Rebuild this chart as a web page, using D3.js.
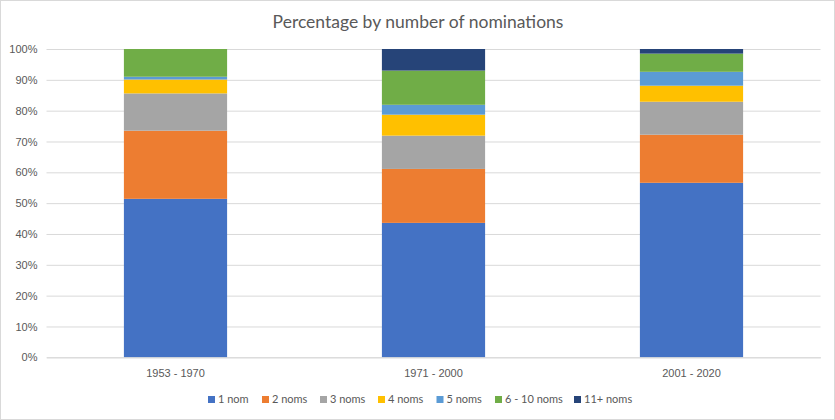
<!DOCTYPE html>
<html>
<head>
<meta charset="utf-8">
<script src="https://cdn.jsdelivr.net/npm/d3@7"></script>
<style>
  html, body { margin: 0; padding: 0; background: #fff; }
  svg { display: block; font-family: Lato, "Open Sans", sans-serif; }
</style>
</head>
<body>
<svg id="chart" width="835" height="420"></svg>
<script>
// 期間（カテゴリ）
const periods = ['1953 - 1970', '1971 - 2000', '2001 - 2020'];
// 系列名
const seriesNames = ['1 nom', '2 noms', '3 noms', '4 noms', '5 noms', '6 - 10 noms', '11+ noms'];
// 各系列の割合（%）: periods 順
const nom1   = [51.4, 43.6, 56.6];
const nom2   = [22.1, 17.5, 15.6];
const nom3   = [12.1, 10.8, 10.7];
const nom4   = [4.5, 6.8, 5.2];
const nom5   = [0.9, 3.2, 4.5];
const nom610 = [9.0, 11.1, 5.9];
const nom11  = [0.0, 7.0, 1.5];
const yTicks = [0, 10, 20, 30, 40, 50, 60, 70, 80, 90, 100];

const colors = ['#4472c4', '#ed7d31', '#a5a5a5', '#ffc000', '#5b9bd5', '#70ad47', '#264478'];
const seriesVals = [nom1, nom2, nom3, nom4, nom5, nom610, nom11];

const W = 835, H = 420;
const margin = { top: 49, right: 14.5, bottom: 63, left: 46.5 };
const svg = d3.select('#chart');

// 外枠
svg.append('rect').attr('x', 0.5).attr('y', 0.5).attr('width', W - 1).attr('height', H - 1)
  .attr('fill', '#fff').attr('stroke', '#d9d9d9');

// タイトル
svg.append('text').attr('x', W / 2 + 0.5).attr('y', 28).attr('text-anchor', 'middle')
  .attr('font-size', 17.5).attr('fill', '#595959').text('Percentage by number of nominations');

const x = d3.scaleBand().domain(periods)
  .range([margin.left, W - margin.right]).paddingInner(0.6).paddingOuter(0.3);
const y = d3.scaleLinear().domain([0, 100]).range([H - margin.bottom + 0.3, margin.top]);

// グリッド + 目盛ラベル
const yAxis = svg.append('g').attr('transform', `translate(${margin.left},0)`)
  .call(d3.axisLeft(y).tickValues(yTicks).tickSize(-(W - margin.left - margin.right))
    .tickFormat(d => d + '%').tickPadding(9));
yAxis.select('.domain').remove();
yAxis.selectAll('.tick line').attr('stroke', '#d9d9d9');
yAxis.selectAll('.tick text').attr('fill', '#595959').attr('font-size', 11);

// 積み上げ
const rows = periods.map((p, i) => {
  const r = { period: p };
  seriesNames.forEach((s, k) => { r[s] = seriesVals[k][i]; });
  return r;
});
const stacked = d3.stack().keys(seriesNames)(rows);

svg.append('g').selectAll('g').data(stacked).enter().append('g')
  .attr('fill', (d, k) => colors[k])
  .selectAll('rect').data(d => d).enter().append('rect')
  .attr('x', d => x(d.data.period))
  .attr('width', x.bandwidth())
  .attr('y', d => y(d[1]))
  .attr('height', d => Math.max(0, y(d[0]) - y(d[1])));

// X軸ラベル
const xAxis = svg.append('g').attr('transform', `translate(0,${y(0)})`)
  .call(d3.axisBottom(x).tickSize(0).tickPadding(12));
xAxis.select('.domain').attr('stroke', '#d9d9d9');
xAxis.selectAll('.tick text').attr('fill', '#595959').attr('font-size', 11);

// 凡例
const legendX = [208, 262, 320, 378, 436.5, 495, 574];
const lg = svg.append('g').selectAll('g').data(seriesNames).enter().append('g')
  .attr('transform', (d, k) => `translate(${legendX[k]},399.5)`);
lg.append('rect').attr('x', 0).attr('y', -3.5).attr('width', 7).attr('height', 7)
  .attr('fill', (d, k) => colors[k]);
lg.append('text').attr('x', 10).attr('dy', '0.35em').attr('font-size', 11)
  .attr('fill', '#595959').text(d => d);
</script>
</body>
</html>
